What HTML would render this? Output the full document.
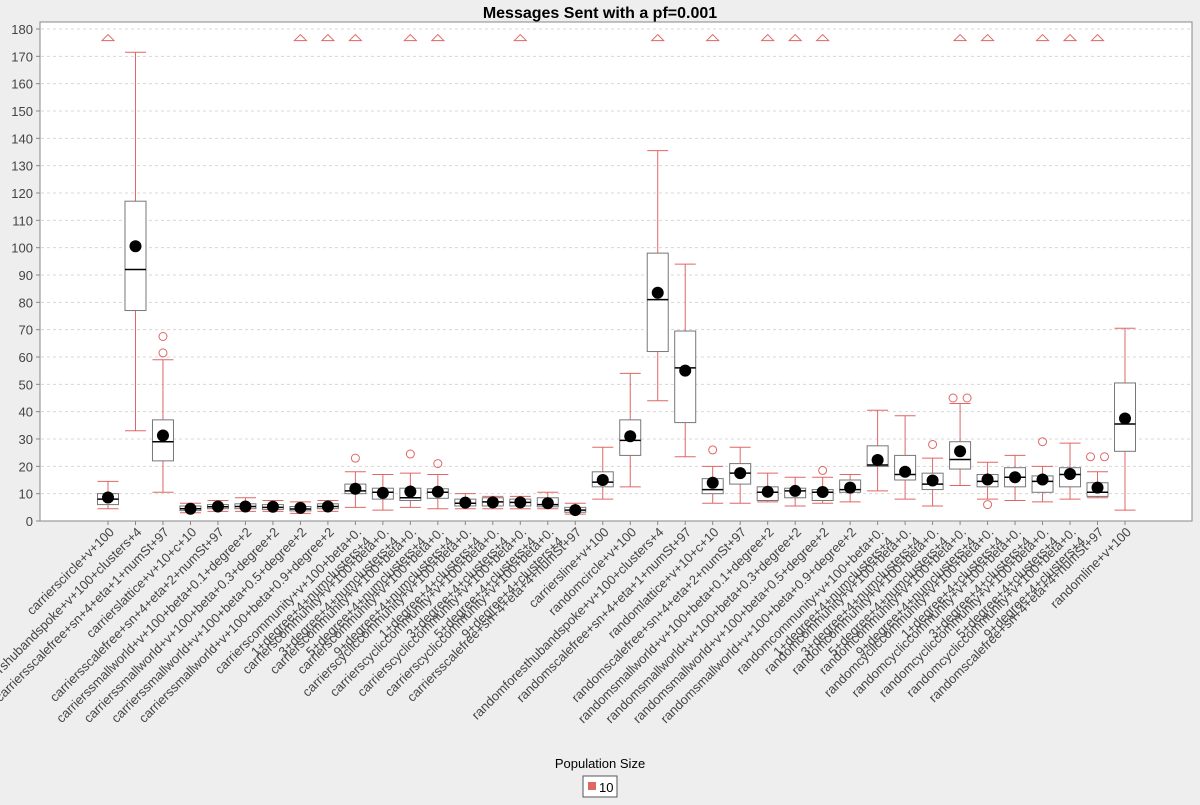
<!DOCTYPE html>
<html><head><meta charset="utf-8"><style>
body{margin:0;background:#eeeeee;font-family:"Liberation Sans",sans-serif;}
svg text{font-family:"Liberation Sans",sans-serif;}
</style></head><body>
<svg id="chart" width="1200" height="800" xmlns="http://www.w3.org/2000/svg">
<rect x="0" y="0" width="1200" height="800" fill="#eeeeee"/>
<text x="600" y="18" text-anchor="middle" font-size="16" font-weight="bold" fill="#000">Messages Sent with a pf=0.001</text>
<rect x="40" y="22" width="1152" height="499" fill="#fff" stroke="#888"/>
<g id="grid"></g><g id="yaxis"></g><g id="xaxis"></g><g id="marks"></g>
<text x="600" y="768" text-anchor="middle" font-size="13" fill="#000">Population Size</text>
<g>
<rect x="583" y="776" width="34" height="21" fill="#fff" stroke="#555"/>
<rect x="588" y="782" width="8" height="8" fill="#e06666"/>
<text x="599" y="792" font-size="13" fill="#000">10</text>
</g>
</svg>
<script>
const categories=["carrierscircle+v+100","carriershubandspoke+v+100+clusters+4","carriersscalefree+sn+4+eta+1+numSt+97","carrierslattice+v+10+c+10","carriersscalefree+sn+4+eta+2+numSt+97","carrierssmallworld+v+100+beta+0.1+degree+2","carrierssmallworld+v+100+beta+0.3+degree+2","carrierssmallworld+v+100+beta+0.5+degree+2","carrierssmallworld+v+100+beta+0.9+degree+2","carrierscommunity+v+100+beta+0.|1+degree+4+numclusters+4","carrierscommunity+v+100+beta+0.|3+degree+4+numclusters+4","carrierscommunity+v+100+beta+0.|5+degree+4+numclusters+4","carrierscommunity+v+100+beta+0.|9+degree+4+numclusters+4","carrierscycliccommunity+v+100+beta+0.|1+degree+4+clusters+4","carrierscycliccommunity+v+100+beta+0.|3+degree+4+clusters+4","carrierscycliccommunity+v+100+beta+0.|5+degree+4+clusters+4","carrierscycliccommunity+v+100+beta+0.|9+degree+4+clusters+4","carriersscalefree+sn+4+eta+4+numSt+97","carriersline+v+100","randomcircle+v+100","randomforesthubandspoke+v+100+clusters+4","randomscalefree+sn+4+eta+1+numSt+97","randomlattice+v+10+c+10","randomscalefree+sn+4+eta+2+numSt+97","randomsmallworld+v+100+beta+0.1+degree+2","randomsmallworld+v+100+beta+0.3+degree+2","randomsmallworld+v+100+beta+0.5+degree+2","randomsmallworld+v+100+beta+0.9+degree+2","randomcommunity+v+100+beta+0.|1+degree+4+numclusters+4","randomcommunity+v+100+beta+0.|3+degree+4+numclusters+4","randomcommunity+v+100+beta+0.|5+degree+4+numclusters+4","randomcommunity+v+100+beta+0.|9+degree+4+numclusters+4","randomcycliccommunity+v+100+beta+0.|1+degree+4+clusters+4","randomcycliccommunity+v+100+beta+0.|3+degree+4+clusters+4","randomcycliccommunity+v+100+beta+0.|5+degree+4+clusters+4","randomcycliccommunity+v+100+beta+0.|9+degree+4+clusters+4","randomscalefree+sn+4+eta+4+numSt+97","randomline+v+100"];
const whiskerLow=[4.5,33,10.5,3,3.5,3.5,3.5,2.8,3.5,5,4,5,4.5,4.5,4.5,4.5,4.5,2.5,8,12.5,44,23.5,6.5,6.5,7,5.5,6.5,7,11,8,5.5,13,8,7.5,7,8,8.5,4];
const q1=[6,77,22,3.8,4.5,4.5,4.2,3.7,4.5,10,8,7.5,8.3,5.5,5.5,5.5,5.2,3.2,12.5,24,62,36,10,13.5,7.5,8.5,7.5,10.5,20,15,11.5,19,12.5,12.5,10.5,12.5,9,25.5];
const medians=[8,92,29,4.5,5.2,5.3,5,4.4,5.3,11,10.5,8.5,10.5,6.5,7,6.8,6,4,14.2,29.5,81,56,11.5,17.5,10.5,11,10.5,11.5,20.5,17,13.5,22.5,14.5,16,14.5,17,10.5,35.5];
const q3=[10,117,37,5.5,6,6.3,6,5.3,6.3,13.5,12,12,11.8,8,8.5,8,8.5,5,18,37,98,69.5,15.5,21,12.5,12,11.5,15,27.5,24,17.5,29,17,19.5,16.5,19.5,14,50.5];
const whiskerHigh=[14.5,171.5,59,6.5,7.5,8.5,7.5,7,7.5,18,17,17.5,17,10,9,9,10.5,6.5,27,54,135.5,94,20,27,17.5,16,16,17,40.5,38.5,23,43,21.5,24,20,28.5,18,70.5];
const means=[8.6,100.5,31.3,4.5,5.3,5.3,5.2,4.8,5.3,11.8,10.3,10.8,10.7,6.7,6.8,6.8,6.5,4,15,31,83.5,55,14,17.5,10.7,11,10.6,12.2,22.3,18,14.8,25.5,15.2,16,15.2,17.2,12.2,37.5];
const outliers=[[],[],[61.5,67.5],[],[],[],[],[],[],[23],[],[24.5],[21],[],[],[],[],[],[],[],[],[],[26],[],[],[],[18.5],[],[],[],[28],[45,45],[6],[],[29],[],[23.5,23.5],[]];
const farOut=[1,0,0,0,0,0,0,1,1,1,0,1,1,0,0,1,0,0,0,0,1,0,1,0,1,1,1,0,0,0,0,1,1,0,1,1,1,0];
const yTicks=[0,10,20,30,40,50,60,70,80,90,100,110,120,130,140,150,160,170,180];

const NS="http://www.w3.org/2000/svg";
const Y0=521,Y180=29,YMAX=180;
const yScale=v=>Y0-(v/YMAX)*(Y0-Y180);
const xFirst=108,xLast=1125;
const xScale=i=>xFirst+i*(xLast-xFirst)/(categories.length-1);
function mk(tag,attrs,parent){const e=document.createElementNS(NS,tag);for(const k in attrs)e.setAttribute(k,attrs[k]);parent.appendChild(e);return e;}
const grid=document.getElementById('grid'),ya=document.getElementById('yaxis'),xa=document.getElementById('xaxis'),marks=document.getElementById('marks');
yTicks.forEach(t=>{
  const y=yScale(t);
  if(t>0){const g=mk('line',{x1:41,x2:1191,y1:y,y2:y,stroke:'#d8d8d8','stroke-dasharray':'3,3'},grid);
  
  }
  mk('line',{x1:36,x2:40,y1:y,y2:y,stroke:'#888'},ya);
  const tx=mk('text',{x:33,y:y+5,'text-anchor':'end','font-size':'13',fill:'#444'},ya);
  tx.textContent=t;
  
  
});
const red='#e06666';
categories.forEach((c,i)=>{
  const x=xScale(i);
  mk('line',{x1:x,x2:x,y1:521,y2:525,stroke:'#888'},xa);
  const lines=c.split('|');
  const g=mk('g',{transform:`translate(${x+4},530) rotate(-45)`},xa);
  
  
  lines.forEach((ln,k)=>{const t=mk('text',{x:0,y:k*13+4,'text-anchor':'end','font-size':'13',fill:'#444'},g);t.textContent=ln;});
  const bg=mk('g',{},marks);
  
  
  const hw=10.5;
  mk('line',{x1:x,x2:x,y1:yScale(whiskerHigh[i]),y2:yScale(q3[i]),stroke:red},bg);
  mk('line',{x1:x,x2:x,y1:yScale(q1[i]),y2:yScale(whiskerLow[i]),stroke:red},bg);
  mk('line',{x1:x-hw,x2:x+hw,y1:yScale(whiskerHigh[i]),y2:yScale(whiskerHigh[i]),stroke:red},bg);
  mk('line',{x1:x-hw,x2:x+hw,y1:yScale(whiskerLow[i]),y2:yScale(whiskerLow[i]),stroke:red},bg);
  mk('rect',{x:x-hw,y:yScale(q3[i]),width:2*hw,height:yScale(q1[i])-yScale(q3[i]),fill:'#fff',stroke:'#777'},bg);
  mk('line',{x1:x-hw,x2:x+hw,y1:yScale(medians[i]),y2:yScale(medians[i]),stroke:'#000','stroke-width':1.5},bg);
  const seen={};
  outliers[i].forEach(v=>{const n=seen[v]||0;seen[v]=n+1;const dup=outliers[i].filter(w=>w===v).length;
    const off=dup>1?(n===0?-7:7):0;
    mk('circle',{cx:x+off,cy:yScale(v),r:4,fill:'none',stroke:red},bg);});
  if(farOut[i]) mk('path',{d:`M${x-6},${yScale(176.5)+2} L${x+6},${yScale(176.5)+2} L${x},${yScale(176.5)-4} Z`,fill:'none',stroke:red},bg);
  mk('circle',{cx:x,cy:yScale(means[i]),r:6,fill:'#000'},bg);
});
</script>
</body></html>
